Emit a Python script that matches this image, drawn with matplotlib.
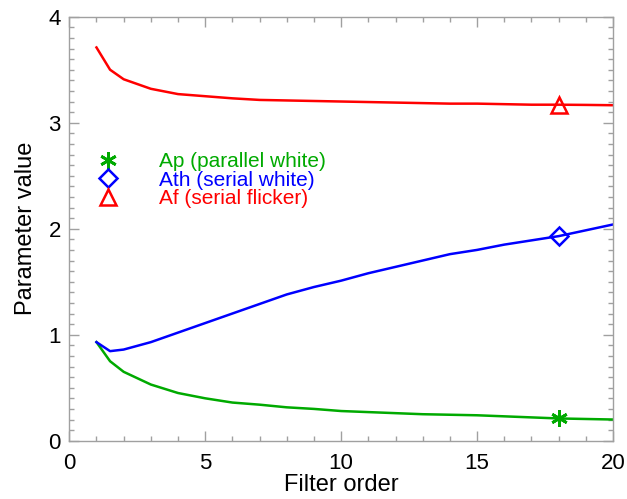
import numpy as np
import matplotlib
matplotlib.use("Agg")
import matplotlib.pyplot as plt
from matplotlib.lines import Line2D

plt.rcParams['font.family'] = ['Liberation Sans', 'DejaVu Sans']

# filter order on x
order = [1, 1.5, 2, 3, 4, 5, 6, 7, 8, 9, 10, 11, 12, 13, 14, 15, 16, 17, 18, 19, 20]
# parallel white
ap = [0.93, 0.75, 0.65, 0.53, 0.45, 0.40, 0.36, 0.34, 0.315, 0.30, 0.28, 0.27, 0.26,
      0.25, 0.245, 0.24, 0.23, 0.22, 0.21, 0.205, 0.20]
# serial white
ath = [0.93, 0.845, 0.86, 0.93, 1.02, 1.11, 1.20, 1.29, 1.38, 1.45, 1.51, 1.58, 1.64,
       1.70, 1.76, 1.80, 1.85, 1.89, 1.93, 1.985, 2.04]
# serial flicker
af = [3.71, 3.50, 3.41, 3.32, 3.27, 3.25, 3.23, 3.215, 3.21, 3.205, 3.20, 3.195, 3.19,
      3.185, 3.18, 3.18, 3.175, 3.17, 3.17, 3.168, 3.165]
mark_at = 18  # order where symbols are drawn

green = '#00aa00'
blue = '#0000ff'
red = '#ff0000'
grey = '#a0a0a0'

fig = plt.figure(figsize=(6.27, 4.99), dpi=100)
ax = fig.add_axes([0.1105, 0.1168, 0.8672, 0.8497])

i = order.index(mark_at)
ax.plot(order, ap, color=green, lw=1.8)
ax.plot(order, ath, color=blue, lw=1.8)
ax.plot(order, af, color=red, lw=1.8)
ast = (6, 2, 0)
ax.plot(order[i], ap[i], marker=ast, ms=12, mew=2, color=green, ls='none')
ax.plot(order[i], ath[i], marker='D', ms=9, mew=1.8, mfc='none', mec=blue, ls='none')
ax.plot(order[i], af[i], marker='^', ms=11, mew=1.8, mfc='none', mec=red, ls='none')

ax.set_xlim(0, 20)
ax.set_ylim(0, 4)
ax.set_xticks([0, 5, 10, 15, 20])
ax.set_xticks(np.arange(0, 21, 1), minor=True)
ax.set_yticks([0, 1, 2, 3, 4])
ax.set_yticks(np.arange(0, 4.01, 0.1), minor=True)
ax.tick_params(which='both', direction='in', top=True, right=True, color=grey, width=1)
ax.tick_params(which='major', length=7, labelsize=16)
ax.tick_params(which='minor', length=3.5)
ax.tick_params(axis='x', pad=9)
ax.tick_params(axis='y', pad=6)
for s in ax.spines.values():
    s.set_color(grey)
    s.set_linewidth(1)

ax.set_xlabel('Filter order', fontsize=17, labelpad=0)
ax.set_ylabel('Parameter value', fontsize=17, labelpad=8)

handles = [
    Line2D([], [], marker=ast, ms=12, mew=2, color=green, ls='none'),
    Line2D([], [], marker='D', ms=9, mew=1.8, mfc='none', mec=blue, ls='none'),
    Line2D([], [], marker='^', ms=11, mew=1.8, mfc='none', mec=red, ls='none'),
]
labels = ['Ap (parallel white)', 'Ath (serial white)', 'Af (serial flicker)']
leg = ax.legend(handles, labels, loc='upper left', bbox_to_anchor=(0.052, 0.68),
                frameon=False, fontsize=15, handlelength=1, handletextpad=1.95,
                labelspacing=-0.03, borderaxespad=0, borderpad=0)
for t, c in zip(leg.get_texts(), [green, blue, red]):
    t.set_color(c)

fig.savefig('out.png', dpi=100)
